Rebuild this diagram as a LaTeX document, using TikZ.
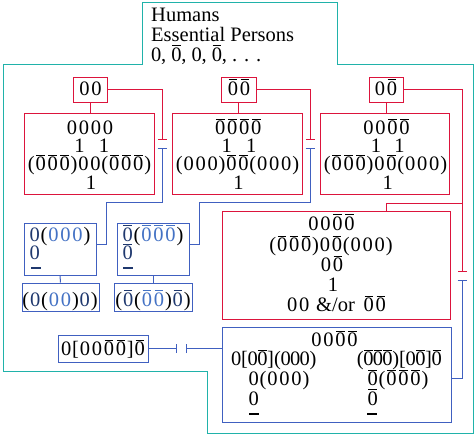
\documentclass[tikz,border=0pt]{standalone}
\usepackage{fontspec}
\setmainfont{Liberation Serif}
\usetikzlibrary{arrows.meta,calc}
\definecolor{rd}{RGB}{220,20,60}
\definecolor{bl}{RGB}{64,96,192}
\definecolor{tl}{RGB}{32,178,170}
\definecolor{nv}{RGB}{31,56,110}
\definecolor{mb}{RGB}{68,114,196}
\newlength\dw \setlength\dw{12pt}
\newcommand\Z{\makebox[\dw]{0}}
\newcommand\B{\makebox[\dw]{\rlap{\kern0.04em\rule[0.72em]{0.42em}{1pt}}0}}
\tikzset{
  rbox/.style={draw=rd, line width=1pt, rectangle, inner sep=0},
  bbox/.style={draw=bl, line width=1pt, rectangle, inner sep=0},
  tx/.style={inner sep=0, anchor=base, text height=13pt, text depth=3.5pt, font=\fontsize{20.5}{20}\selectfont},
  txl/.style={tx, anchor=base west},
  rline/.style={draw=rd, line width=1pt},
  bline/.style={draw=bl, line width=1pt},
  barend/.style={-{Bar[width=9pt]}},
  barstart/.style={{Bar[width=9pt]}-},
}
\begin{document}
\begin{tikzpicture}[x=1pt,y=-1pt]
\useasboundingbox (0,0) rectangle (476,434);
% teal frame
\draw[tl, line width=1pt] (142,2) -- (337,2) -- (337,64) -- (473,64) -- (473,433) -- (207,433) -- (207,371) -- (3,371) -- (3,64) -- (142,64) -- cycle;
\node[txl] (h1) at (151,21) {Humans};
\node[txl] (h2) at (151,41) {Essential Persons};
\node[txl] (h3) at (151,61) {\setlength\dw{10pt}\Z, \B, \Z, \B, . . .};
% top small red boxes
\node[rbox, minimum width=34pt, minimum height=25pt] (s1) at (90,89.5) {};
\node[rbox, minimum width=35pt, minimum height=25pt] (s2) at (238.5,89.5) {};
\node[rbox, minimum width=34pt, minimum height=25pt] (s3) at (386,89.5) {};
\node[tx] (s1t) at (90.5,95) {\Z\Z};
\node[tx] (s2t) at (239,95) {\B\B};
\node[tx] (s3t) at (386,95) {\Z\B};
% big red boxes
\node[rbox, minimum width=130pt, minimum height=81pt] (bx1) at (89,153.5) {};
\node[rbox, minimum width=130pt, minimum height=81pt] (bx2) at (237,153.5) {};
\node[rbox, minimum width=129pt, minimum height=81pt] (bx3) at (384.5,153.5) {};
\node[tx] (a1) at (90,134.3) {\Z\Z\Z\Z};
\node[tx] (a2) at (91.75,152.3) {1\hspace{14.5pt}1};
\node[tx] (a3) at (89.5,170.7) {(\B\B\B)\Z\Z(\B\B\B)};
\node[tx] (a4) at (91,189) {1};
\node[tx] (b1t) at (238.3,134.3) {\B\B\B\B};
\node[tx] (b2t) at (239,152.3) {1\hspace{14.5pt}1};
\node[tx] (b3t) at (237.5,170.7) {(\Z\Z\Z)\B\B(\Z\Z\Z)};
\node[tx] (b4t) at (238.5,189) {1};
\node[tx] (c1t) at (386.5,134.3) {\Z\Z\B\B};
\node[tx] (c2t) at (387.75,152.3) {1\hspace{13.5pt}1};
\node[tx] (c3t) at (385.5,170.7) {(\B\B\B)\Z\B(\Z\Z\Z)};
\node[tx] (c4t) at (387.7,189) {1};
% box 4
\node[rbox, minimum width=228pt, minimum height=108pt] (bx4) at (336,265) {};
\node[tx] (d1) at (331.5,230) {\Z\Z\B\B};
\node[tx] (d2) at (331,251.7) {(\B\B\B)\Z\B(\Z\Z\Z)};
\node[tx] (d3) at (332,271.7) {\Z\B};
\node[tx] (d4) at (333,291.7) {1};
\node[tx] (d5) at (336.5,311.7) {\Z\Z\hspace{6pt}\&/or\hspace{8pt}\B\B};
% box 5
\node[bbox, minimum width=229pt, minimum height=95pt] (bx5) at (336.5,374.5) {};
\node[tx] (e1) at (334.5,346.7) {\Z\Z\B\B};
\node[tx] (e2) at (274,365.7) {\setlength\dw{9.6pt}\Z[\Z\B](\Z\Z\Z)};
\node[tx] (e3) at (399.2,365.7) {\setlength\dw{9.6pt}(\B\B\B)[\Z\B]\B};
\node[txl] (e4) at (247.5,385.7) {\Z(\Z\Z\Z)};
\node[txl] (e5) at (366.5,385.7) {\B(\B\B\B)};
\node[txl] (e6) at (247.5,405) {\Z};
\node[txl] (e7) at (366.5,405) {\B};
\fill (249,413.3) rectangle (259,415.3);
\fill (367,413.3) rectangle (377,415.3);
% blue boxes
\node[bbox, minimum width=72pt, minimum height=52pt] (bb1) at (60,249) {};
\node[bbox, minimum width=72pt, minimum height=52pt] (bb2) at (153,249) {};
\node[bbox, minimum width=77pt, minimum height=28pt] (bb3) at (60.5,297) {};
\node[bbox, minimum width=78pt, minimum height=28pt] (bb4) at (153,297) {};
\node[txl] (f1) at (28.5,241) {{\color{nv}\Z}({\color{mb}\Z\Z\Z})};
\node[txl] (f2) at (28.5,259.3) {\color{nv}\Z};
\fill[nv] (31,267) rectangle (41,269);
\node[txl] (g1) at (121.5,241) {{\color{nv}\B}({\color{mb}\B\B\B})};
\node[txl] (g2) at (121.5,259.3) {\color{nv}\B};
\fill[nv] (123,267) rectangle (133,269);
\node[tx] (f3) at (60,306) {({\color{nv}\Z}({\color{mb}\Z\Z}){\color{nv}\Z})};
\node[tx] (g3) at (153,306) {({\color{nv}\B}({\color{mb}\B\B}){\color{nv}\B})};
% small box
\node[bbox, minimum width=90pt, minimum height=27pt] (sm) at (103,348.5) {};
\node[tx] (smt) at (103,355.7) {\Z[\Z\Z\B\B]\B};
% coordinates
\coordinate (r1) at (162,140);
\coordinate (q1) at (162,148);
\coordinate (j1) at (106,202);
\coordinate (r2) at (310,140);
\coordinate (q2) at (310,148);
\coordinate (j2) at (199,202);
\coordinate (r3) at (462,272);
\coordinate (q3) at (462,280);
\coordinate (j4) at (462,203);
\coordinate (k1) at (177,348.5);
\coordinate (k2) at (186,348.5);
% connectors
\draw[rline] (s1.south) -- (s1.south |- bx1.north);
\draw[rline] (s2.south) -- (s2.south |- bx2.north);
\draw[rline] (s3.south) -- (s3.south |- bx3.north);
\draw[rline, barend] (s1.east) -| (r1);
\draw[rline, barend] (s2.east) -| (r2);
\draw[rline, barend] (s3.east) -| (r3);
\draw[rline] ($(bx4.north)+(50,0)$) |- (j4);
\draw[bline, barstart] (q1) |- (j1) |- ($(bb1.east)+(0,-5)$);
\draw[bline, barstart] (q2) |- (j2) |- ($(bb2.east)+(0,-5)$);
\draw[bline, barstart] (q3) |- ($(bx5.east)+(0,3.5)$);
\draw[bline] (bb1.south) -- (bb3.north);
\draw[bline] (bb2.south) -- (bb4.north);
\draw[bline, barend] (sm.east) -- (k1);
\draw[bline, barend] (sm.east -| bx5.west) -- (k2);
\end{tikzpicture}
\end{document}
